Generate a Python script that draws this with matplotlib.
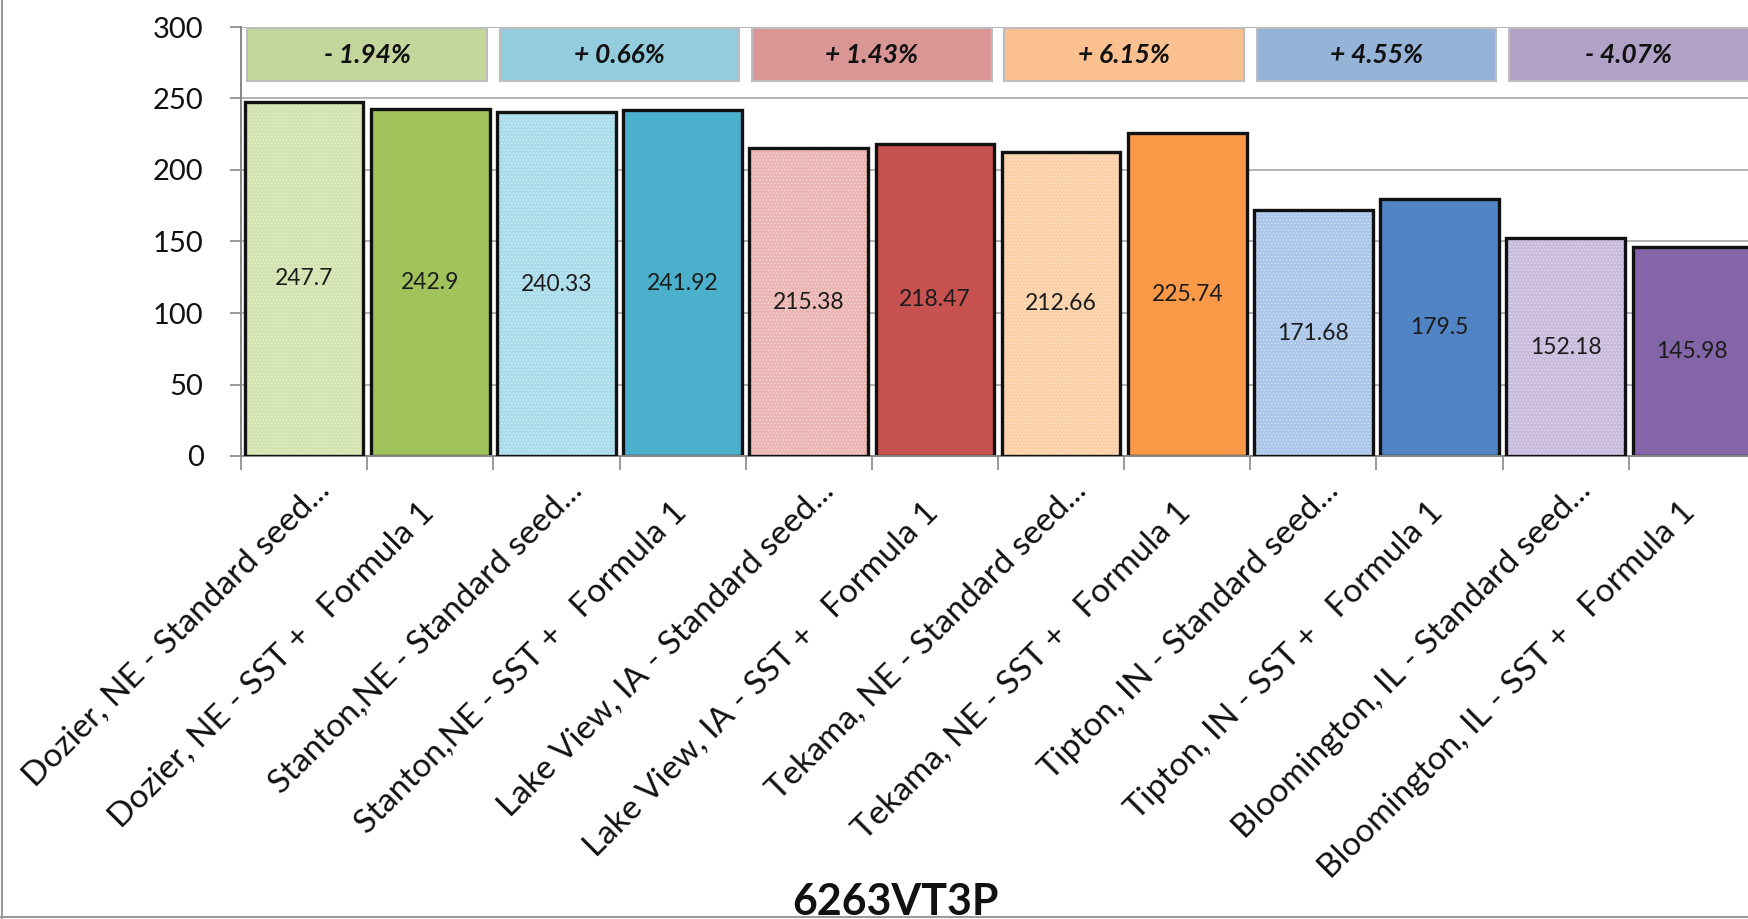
import numpy as np
import matplotlib
matplotlib.use('Agg')
import matplotlib.pyplot as plt
from matplotlib.patches import Rectangle
from matplotlib.lines import Line2D
import matplotlib.transforms as mtransforms

plt.rcParams['font.family'] = ['Lato', 'DejaVu Sans']
plt.rcParams['hatch.linewidth'] = 0.6

# data
labels = ['Dozier, NE - Standard seed...', 'Dozier, NE - SST +   Formula 1',
          'Stanton,NE - Standard seed...', 'Stanton,NE - SST +   Formula 1',
          'Lake View, IA - Standard seed...', 'Lake View, IA - SST +   Formula 1',
          'Tekama, NE - Standard seed...', 'Tekama, NE - SST +   Formula 1',
          'Tipton, IN - Standard seed...', 'Tipton, IN - SST +   Formula 1',
          'Bloomington, IL - Standard seed...', 'Bloomington, IL - SST +   Formula 1']
values = [247.7, 242.9, 240.33, 241.92, 215.38, 218.47, 212.66, 225.74,
          171.68, 179.5, 152.18, 145.98]
pct_changes = ['- 1.94%', '+ 0.66%', '+ 1.43%', '+ 6.15%', '+ 4.55%', '- 4.07%']
title = '6263VT3P'

# colours per site pair
light_cols = ['#d3e3b0', '#a9dbea', '#eab4b2', '#fcd0a6', '#a9c5e9', '#c9bbdd']
dot_cols = ['#e7f0d5', '#d2eef6', '#f6dcdb', '#fee6cf', '#d5e3f4', '#e3dbee']
dark_cols = ['#a2c25c', '#4bb0cc', '#c8524f', '#fa9a48', '#5084c4', '#8466a8']
box_cols = ['#c3d69b', '#93cddd', '#d99694', '#fac090', '#95b3d7', '#b3a2c7']

fig = plt.figure(figsize=(17.48, 9.19), dpi=100)
ax = fig.add_axes([241 / 1748, 1 - 456 / 919, (1755 - 241) / 1748, (456 - 27) / 919])

w = 0.94
for i, v in enumerate(values):
    k = i // 2
    if i % 2 == 0:
        ax.bar(i, v, w, color=light_cols[k], edgecolor=dot_cols[k], hatch='.....',
               linewidth=0, zorder=2)
        ax.bar(i, v, w, fill=False, edgecolor='#111111', linewidth=2.4, zorder=3)
    else:
        ax.bar(i, v, w, color=dark_cols[k], edgecolor='#111111', linewidth=2.4, zorder=2)
    ax.text(i, v / 2, f'{v:g}', ha='center', va='center', fontsize=16.5,
            color='#1c1c1c', zorder=4)

# percentage boxes above each pair
for k, p in enumerate(pct_changes):
    ax.add_patch(Rectangle((2 * k - 0.45, 262), 1.9, 37, facecolor=box_cols[k],
                           edgecolor='#bdbdbd', linewidth=1.5, zorder=3))
    ax.text(2 * k + 0.5, 280.5, p, ha='center', va='center', fontsize=19,
            fontweight='bold', fontstyle='italic', color='#111111', zorder=4)

ax.set_xlim(-0.5, len(values) - 0.5)
ax.set_ylim(0, 300)
ax.set_yticks(np.arange(0, 301, 50))
ax.tick_params(axis='y', labelsize=21, length=8, width=1.2, color='#868686',
               pad=19, labelcolor='#111111')
ax.grid(axis='y', color='#a6a6a6', linewidth=1.2, zorder=0)
ax.set_axisbelow(True)

for s in ['top', 'right']:
    ax.spines[s].set_visible(False)
for s in ['left', 'bottom']:
    ax.spines[s].set_color('#868686')
    ax.spines[s].set_linewidth(1.4)

# x ticks at category borders, labels written separately
ax.set_xticks(np.arange(-0.5, len(values), 1))
ax.set_xticklabels([])
ax.tick_params(axis='x', length=10, width=1.2, color='#868686')

trans = mtransforms.blended_transform_factory(ax.transData, ax.transAxes)
for i, lab in enumerate(labels):
    if 'Formula' in lab:
        off = mtransforms.ScaledTranslation(5 / 100, -58 / 100, fig.dpi_scale_trans)
    else:
        off = mtransforms.ScaledTranslation(27 / 100, -36 / 100, fig.dpi_scale_trans)
    ax.text(i, 0, lab, transform=trans + off, rotation=45, rotation_mode='anchor',
            ha='right', va='baseline', fontsize=24, color='#111111')

fig.text(895 / 1748, 0.004, title, ha='center', va='baseline', fontsize=31,
         fontweight='bold', color='#111111')

# chart border (left and bottom edges of the cropped frame)
fig.add_artist(Line2D([0.001, 0.001], [0, 1], transform=fig.transFigure,
                      color='#9a9a9a', linewidth=1.5))
fig.add_artist(Line2D([0, 1], [0.002, 0.002], transform=fig.transFigure,
                      color='#9a9a9a', linewidth=1.5))

fig.savefig('out.png', dpi=100)
